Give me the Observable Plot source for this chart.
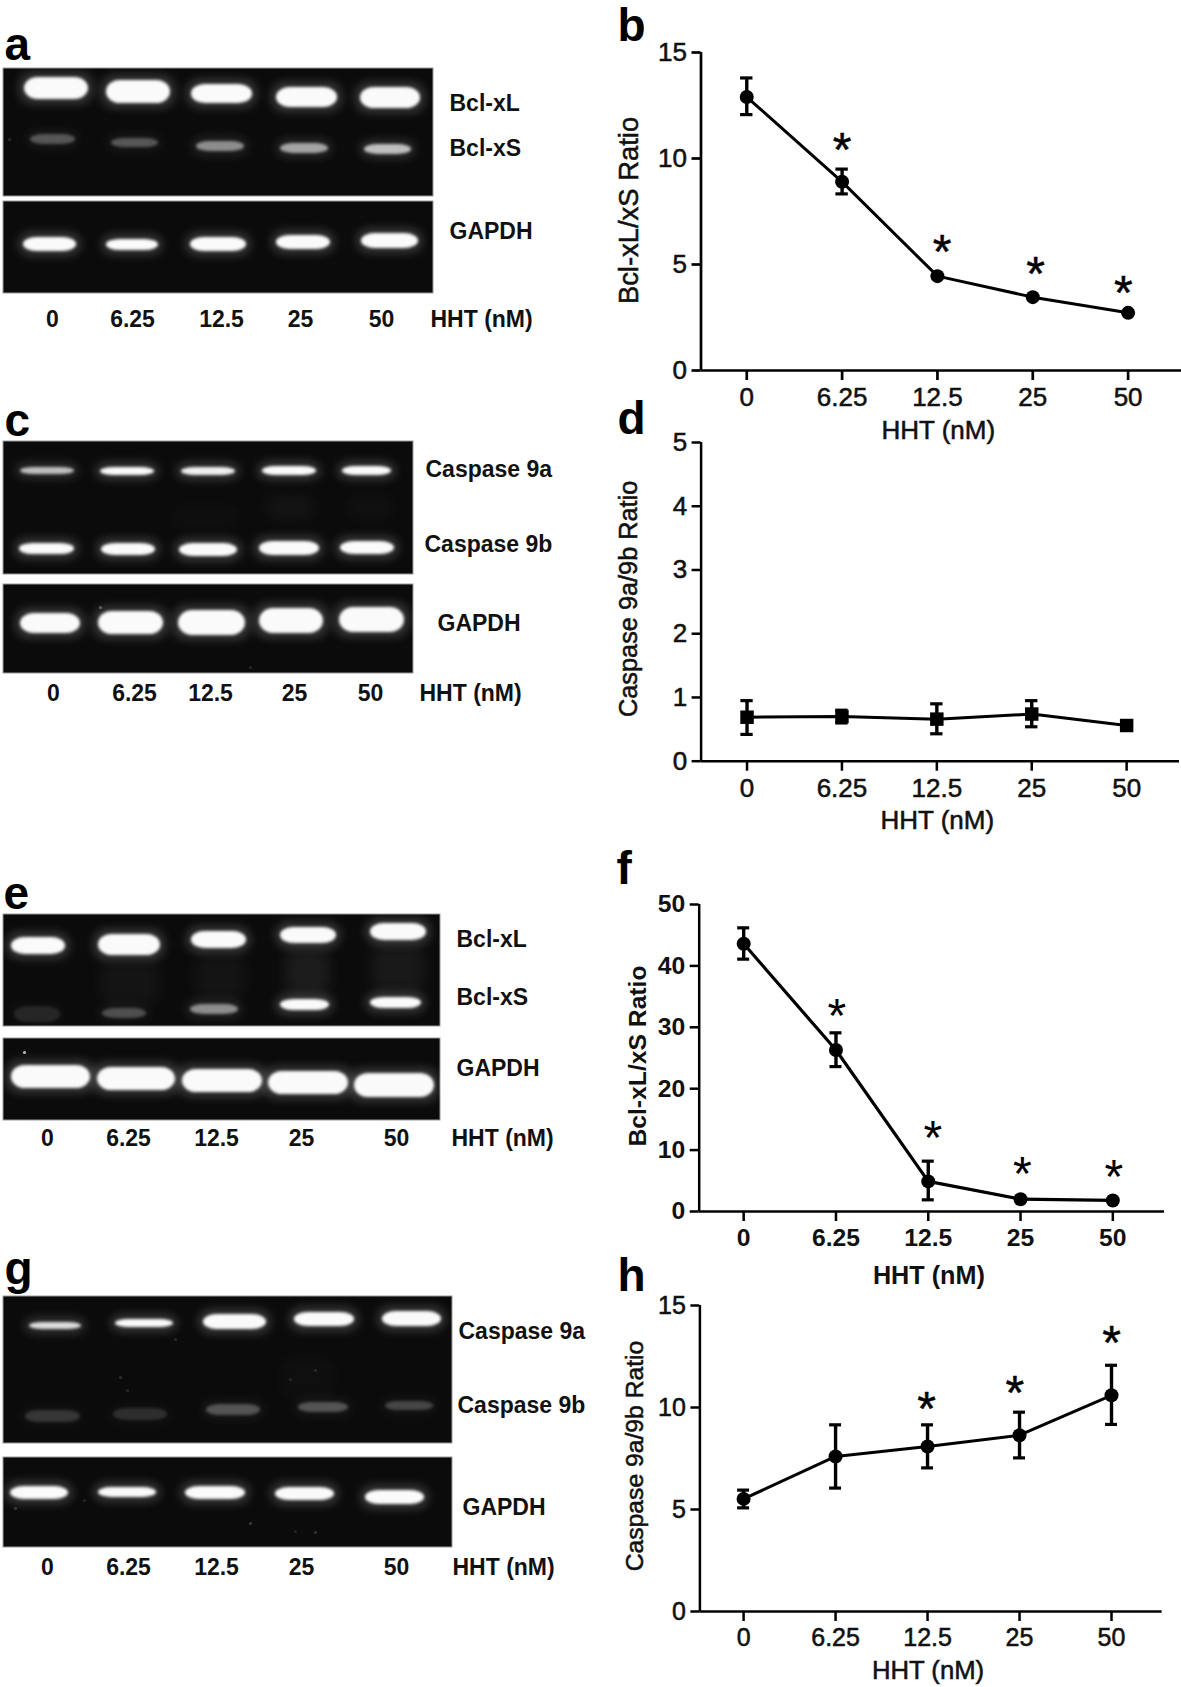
<!DOCTYPE html>
<html><head><meta charset="utf-8">
<style>
html,body{margin:0;padding:0;background:#fff}
#page{position:relative;width:1181px;height:1687px;overflow:hidden;background:#fff}
#page svg{position:absolute;background:transparent}
.heavy text{stroke:#111;stroke-width:.55px}
</style>
<script src="https://cdn.jsdelivr.net/npm/d3@7"></script>
<script src="https://cdn.jsdelivr.net/npm/@observablehq/plot@0.6"></script>
</head><body><div id="page"></div>
<script>
const doses = ["0","6.25","12.5","25","50"];
const lanes = [0,1,2,3,4];

// Panel b
const bMean = [12.9,8.9,4.45,3.46,2.72];
const bHigh = [13.8,9.5,4.45,3.46,2.72];
const bLow  = [12.07,8.33,4.45,3.46,2.72];
const bStarX = [1,2.05,3.03,3.95];
const bStarY = [10.75,5.95,4.88,3.98];
// Panel d
const dMean = [0.69,0.70,0.66,0.74,0.56];
const dHigh = [0.95,0.80,0.90,0.95,0.56];
const dLow  = [0.42,0.60,0.43,0.54,0.56];
// Panel f
const fMean = [43.6,26.3,4.9,2.0,1.8];
const fHigh = [46.2,29.1,8.2,2.0,1.8];
const fLow  = [41.1,23.6,1.9,2.0,1.8];
const fStarX = [1.01,2.05,3.02,4.01];
const fStarY = [33,13.1,7.3,6.8];
// Panel h
const hMean = [5.52,7.6,8.09,8.64,10.6];
const hHigh = [5.95,9.15,9.15,9.77,12.07];
const hLow  = [5.08,6.05,7.04,7.53,9.17];
const hStarX = [1.99,2.95,4];
const hStarY = [10.3,11.05,13.5];

// Gel blots: [left, right, top, bottom, brightness]
const blots = [[3,433,68,196],[3,433,201,293],[3,413,441,574],[3,413,584,673],[3,440,914,1026],[3,440,1038,1120],[3,452,1296,1443],[3,452,1457,1547]];
const bandsA = [[24,88,77,99,1],[106,170,80,103,1],[191,252,84,103,1],[276,337,87,107,1],[360,420,87,108,1],
  [30,75,134,144,.28],[111,158,138,147,.28],[196,244,141,151,.5],[280,328,143,153,.6],[364,411,144,154,.72],
  [23,76,237,251,1],[106,158,239,250,1],[190,246,237,251,1],[276,330,235,249,1],[361,418,233,248,1]];
const bandsC = [[20,74,467,474,.72],[100,154,467,475,1],[181,235,467,475,.95],[262,316,466,475,1],[342,391,466,475,1],
  [19,74,543,554,1],[101,155,543,555,1],[179,237,543,556,1],[259,319,541,555,1],[340,394,541,554,1],
  [20,80,613,633,1],[98,163,611,634,1],[178,245,610,635,1],[259,323,608,633,1],[339,404,607,632,1]];
const bandsE = [[11,65,937,954,1],[98,160,934,955,1],[191,246,931,948,1],[280,336,927,943,1],[370,426,923,940,1],
  [14,60,1006,1022,.1],[102,146,1008,1018,.25],[190,238,1004,1014,.5],[280,329,999,1010,1],[370,421,997,1008,1],
  [11,90,1065,1088,1],[97,175,1067,1090,1],[182,262,1069,1092,1],[268,348,1071,1094,1],[354,434,1073,1097,1]];
const bandsG = [[29,81,1322,1329,.85],[115,173,1319,1327,1],[203,266,1314,1329,1],[294,354,1312,1326,1],[382,441,1311,1326,1],
  [25,80,1410,1422,.16],[113,167,1408,1420,.13],[206,260,1404,1415,.27],[298,348,1402,1412,.27],[385,433,1401,1410,.22],
  [10,68,1486,1499,1],[98,156,1487,1497,1],[185,245,1486,1499,1],[275,334,1487,1500,1],[365,424,1490,1504,1]];
const smears = [[100,160,960,1005,.04],[195,245,955,1000,.04],[285,330,948,995,.07],[372,425,945,992,.06],
  [280,335,1355,1400,.02],[170,240,505,530,.02],[265,315,495,520,.04],[345,395,495,520,.025]];
const specks = [[9,139,.12],[24,1052,.7],[100,607,.3],[250,667,.12],[120,1377,.15],[127,1390,.12],[175,1339,.12],[315,1370,.12],[290,1379,.1],
  [15,1508,.18],[84,1500,.12],[250,1523,.2],[295,1531,.1],[315,1532,.16]];

// Panel letters and blot labels
const letters = [["a",4,59],["b",617,40],["c",4,435],["d",617,433],["e",3,908],["f",616,883],["g",4,1283],["h",617,1290]];
const blotLabels = [["Bcl-xL",449,103],["Bcl-xS",449,148],["GAPDH",449,231],
  ["Caspase 9a",425,469],["Caspase 9b",424,544],["GAPDH",437,623],
  ["Bcl-xL",456,939],["Bcl-xS",456,997],["GAPDH",456,1068],
  ["Caspase 9a",458,1331],["Caspase 9b",457,1405],["GAPDH",462,1507]];
const hhtLabels = [[430,319],[419,693],[451,1138],[452,1567]];
const laneLabelsA = [[52,319],[132,319],[221,319],[300,319],[381,319]];
const laneLabelsC = [[53,693],[134,693],[210,693],[294,693],[370,693]];
const laneLabelsE = [[47,1138],[128,1138],[216,1138],[301,1138],[396,1138]];
const laneLabelsG = [[47,1567],[128,1567],[216,1567],[301,1567],[396,1567]];

const FONT = "font-family:'Liberation Sans',Arial,sans-serif;background:transparent;";
const page = document.getElementById("page");
const asRect = ([x1,x2,y1,y2,v]) => ({x1,x2,y1,y2,v});
const allBands = [...bandsA,...bandsC,...bandsE,...bandsG].map(asRect);
const laneText = [laneLabelsA,laneLabelsC,laneLabelsE,laneLabelsG].flatMap(arr => arr.map(([x,y],i)=>({t:doses[i],x,y})));

const gels = Plot.plot({
  width:1181,height:1687,margin:0,
  x:{domain:[0,1181],range:[0,1181],axis:null},
  y:{domain:[0,1687],range:[0,1687],axis:null},
  opacity:{type:"identity"},
  style:FONT,
  marks:[
    Plot.rect(blots.map(asRect),{x1:"x1",x2:"x2",y1:"y1",y2:"y2",fill:"#0b0b0b",stroke:"#9a9a9a",strokeWidth:1}),
    Plot.rect(smears.map(asRect),{x1:"x1",x2:"x2",y1:"y1",y2:"y2",fill:"#fff",fillOpacity:"v",rx:12,imageFilter:"blur(7px)"}),
    Plot.rect(allBands,{x1:"x1",x2:"x2",y1:"y1",y2:"y2",fill:"#fff",fillOpacity:d=>d.v*.18,inset:-5,rx:14,imageFilter:"blur(5px)"}),
    Plot.rect(allBands,{x1:"x1",x2:"x2",y1:"y1",y2:"y2",fill:"#fafafa",fillOpacity:"v",rx:14,imageFilter:"blur(1.5px)"}),
    Plot.dot(specks,{x:d=>d[0],y:d=>d[1],r:1.6,fill:"#fff",fillOpacity:d=>d[2],imageFilter:"blur(.6px)"}),
    Plot.text(letters,{x:d=>d[1],y:d=>d[2],text:d=>d[0],textAnchor:"start",lineAnchor:"bottom",fontSize:46,fontWeight:700,fill:"#000"}),
    Plot.text(blotLabels,{x:d=>d[1],y:d=>d[2],text:d=>d[0],textAnchor:"start",fontSize:23,fontWeight:700,fill:"#111"}),
    Plot.text(laneText,{x:"x",y:"y",text:"t",fontSize:23,fontWeight:700,fill:"#111"}),
    Plot.text(hhtLabels,{x:d=>d[0],y:d=>d[1],text:()=>"HHT (nM)",textAnchor:"start",fontSize:23,fontWeight:700,fill:"#111"})
  ]
});
gels.style.left="0";gels.style.top="0";
page.append(gels);

function chart({top,height,mTop,mBottom,mRight,mLeft,domainX,domainY,yTicks,yTitle,mean,hi,lo,starX,starY,symbol,r,weight,heavy,axisW,lineW,size,yDx,yDy,xDy,ySize,xSize}){
  const rows = lanes.map(i=>({i,m:mean[i],hi:hi[i],lo:lo[i]}));
  const errs = rows.filter(d=>d.hi!==d.lo);
  const stars = (starX||[]).map((x,k)=>({x,y:starY[k]}));
  const p = Plot.plot({
    width:581,height,marginLeft:mLeft,marginRight:mRight,marginTop:mTop,marginBottom:mBottom,
    x:{domain:domainX},y:{domain:domainY},
    style:FONT+`font-weight:${weight};color:#111;`,
    marks:[
      Plot.axisY({ticks:yTicks,tickFormat:"d",tickSize:9,tickPadding:5,fontSize:size,strokeWidth:axisW,stroke:"#000",label:null}),
      Plot.axisX({ticks:lanes,tickFormat:i=>doses[i],tickSize:10,tickPadding:7,fontSize:size,strokeWidth:axisW,stroke:"#000",label:null}),
      Plot.text([yTitle],{frameAnchor:"left",text:d=>d,rotate:-90,textAnchor:"middle",lineAnchor:"middle",dx:yDx,dy:yDy,fontSize:ySize,fill:"#111"}),
      Plot.text(["HHT (nM)"],{frameAnchor:"bottom",text:d=>d,textAnchor:"middle",lineAnchor:"middle",dx:-3,dy:xDy,fontSize:xSize,fill:"#111"}),
      Plot.ruleX([domainX[0]],{y1:domainY[0],y2:domainY[1],stroke:"#000",strokeWidth:axisW}),
      Plot.ruleY([domainY[0]],{stroke:"#000",strokeWidth:axisW}),
      Plot.ruleX(errs,{x:"i",y1:"lo",y2:"hi",stroke:"#000",strokeWidth:3.4}),
      Plot.ruleY(errs,{y:"hi",x1:d=>d.i-.065,x2:d=>d.i+.065,stroke:"#000",strokeWidth:3.2}),
      Plot.ruleY(errs,{y:"lo",x1:d=>d.i-.065,x2:d=>d.i+.065,stroke:"#000",strokeWidth:3.2}),
      Plot.line(rows,{x:"i",y:"m",stroke:"#000",strokeWidth:lineW,curve:"linear"}),
      Plot.dot(rows,{x:"i",y:"m",r,symbol,fill:"#000"}),
      Plot.text(stars,{x:"x",y:"y",text:()=>"*",fontSize:48,dy:8,fontWeight:400,fill:"#000"})
    ]
  });
  if(heavy) p.classList.add("heavy");
  p.style.left="600px";p.style.top=top+"px";
  page.append(p);
}
chart({top:0,height:445,mTop:52,mBottom:75,mRight:0,mLeft:100.5,domainX:[-.48,4.56],domainY:[0,15],yTicks:[0,5,10,15],yTitle:"Bcl-xL/xS Ratio",mean:bMean,hi:bHigh,lo:bLow,starX:bStarX,starY:bStarY,symbol:"circle",r:7,weight:400,heavy:true,axisW:2.7,lineW:3,size:26,yDx:-72,yDy:-1,xDy:60,ySize:27.4,xSize:26});
chart({top:395,height:440,mTop:47,mBottom:74.3,mRight:2,mLeft:100.6,domainX:[-.484,4.557],domainY:[0,5],yTicks:[0,1,2,3,4,5],yTitle:"Caspase 9a/9b Ratio",mean:dMean,hi:dHigh,lo:dLow,symbol:"square",r:7.6,weight:400,heavy:true,axisW:2.5,lineW:3,size:26,yDx:-72,yDy:-3,xDy:59.3,ySize:25.3,xSize:26});
chart({top:850,height:445,mTop:54,mBottom:84,mRight:17,mLeft:98.7,domainX:[-.482,4.56],domainY:[0,50],yTicks:[0,10,20,30,40,50],yTitle:"Bcl-xL/xS Ratio",mean:fMean,hi:fHigh,lo:fLow,starX:fStarX,starY:fStarY,symbol:"circle",r:7,weight:700,heavy:false,axisW:2.5,lineW:3.2,size:24.7,yDx:-61,yDy:-2,xDy:64,ySize:24.7,xSize:25.2});
chart({top:1250,height:437,mTop:55,mBottom:76,mRight:19.4,mLeft:99.4,domainX:[-.475,4.55],domainY:[0,15],yTicks:[0,5,10,15],yTitle:"Caspase 9a/9b Ratio",mean:hMean,hi:hHigh,lo:hLow,starX:hStarX,starY:hStarY,symbol:"circle",r:7,weight:400,heavy:true,axisW:2.5,lineW:3,size:25,yDx:-65,yDy:-2.5,xDy:59.7,ySize:24.7,xSize:25.7});
</script></body></html>
